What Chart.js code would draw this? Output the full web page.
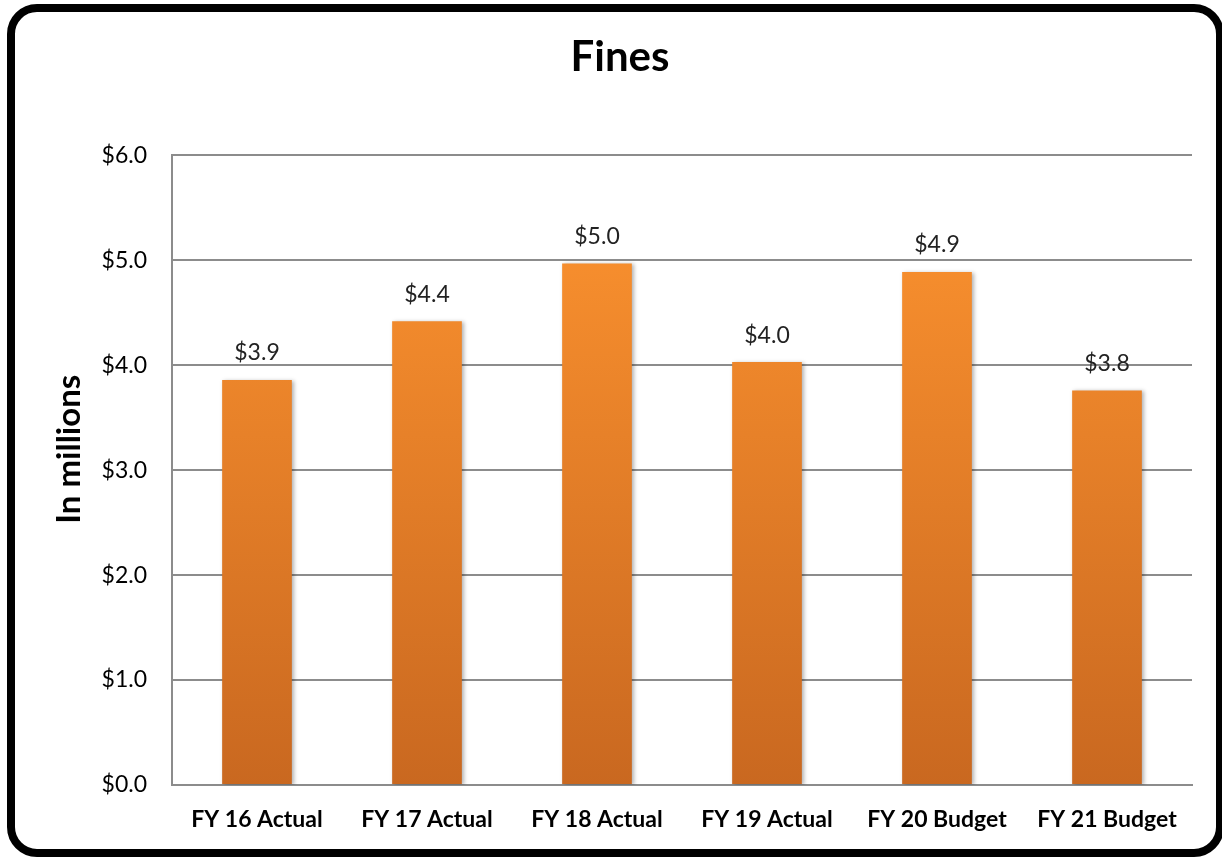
<!DOCTYPE html>
<html>
<head>
<meta charset="utf-8">
<script src="https://cdn.jsdelivr.net/npm/chart.js@4"></script>
<style>
    html, body { margin: 0; padding: 0; background: #fff; overflow: hidden; }
    #wrap { position: relative; width: 1222px; height: 858px; overflow: hidden; }
    #fines { position: absolute; left: 0; top: 0; }
    #frame {
        position: absolute; left: 7px; top: 4px; width: 1201px; height: 837px;
        border: 8px solid #000; border-radius: 30px; pointer-events: none;
    }
</style>
</head>
<body>
<div id="wrap">
    <canvas id="fines" width="1222" height="858"></canvas>
    <div id="frame"></div>
</div>
<script>
const years = ["FY 16 Actual", "FY 17 Actual", "FY 18 Actual", "FY 19 Actual", "FY 20 Budget", "FY 21 Budget"];
const fines = [3.86, 4.42, 4.97, 4.03, 4.89, 3.76];
const yTicks = [0, 1, 2, 3, 4, 5, 6];
const yTitle = "In millions";

const fontFamily = "Lato, 'Open Sans', sans-serif";

// value labels above each bar
const barLabels = {
    id: 'barLabels',
    afterDatasetsDraw(chart) {
        const ctx = chart.ctx;
        const meta = chart.getDatasetMeta(0);
        ctx.save();
        ctx.font = "23px " + fontFamily;
        ctx.fillStyle = "#222";
        ctx.textAlign = "center";
        ctx.textBaseline = "middle";
        meta.data.forEach((bar, i) => {
            ctx.fillText("$" + fines[i].toFixed(1), bar.x, bar.y - 27);
        });
        ctx.restore();
    }
};

// y axis title, sits a bit above the middle like the original
const sideTitle = {
    id: 'sideTitle',
    afterDraw(chart) {
        const ctx = chart.ctx;
        const area = chart.chartArea;
        ctx.save();
        ctx.translate(69, (area.top + area.bottom) / 2 - 21);
        ctx.rotate(-Math.PI / 2);
        ctx.font = "bold 33px " + fontFamily;
        ctx.fillStyle = "#000";
        ctx.textAlign = "center";
        ctx.textBaseline = "middle";
        ctx.fillText(yTitle, 0, 0);
        ctx.restore();
    }
};

// soft shadow behind the bars
const barShadow = {
    id: 'barShadow',
    beforeDatasetsDraw(chart) {
        const ctx = chart.ctx;
        ctx.save();
        ctx.shadowColor = "rgba(0,0,0,0.3)";
        ctx.shadowBlur = 4;
        ctx.shadowOffsetX = 2;
        ctx.shadowOffsetY = 1;
    },
    afterDatasetsDraw(chart) {
        chart.ctx.restore();
    }
};

function barGradient(context) {
    const chart = context.chart;
    const area = chart.chartArea;
    if (!area) return "#f28a2e";
    const g = chart.ctx.createLinearGradient(0, area.top, 0, area.bottom);
    g.addColorStop(0, "#ff9530");
    g.addColorStop(1, "#c96820");
    return g;
}

new Chart("fines", {
    type: "bar",
    data: {
        labels: years,
        datasets: [{
            data: fines,
            backgroundColor: barGradient,
            borderWidth: 0,
            barPercentage: 0.41,
            categoryPercentage: 1
        }]
    },
    options: {
        responsive: false,
        animation: false,
        layout: { padding: { left: 48, right: 30, top: 0, bottom: 13 } },
        plugins: {
            legend: { display: false },
            tooltip: { enabled: false },
            title: {
                display: true,
                text: "Fines",
                color: "#000",
                font: { family: fontFamily, size: 42, weight: "bold" },
                padding: { top: 32, bottom: 73 }
            }
        },
        scales: {
            x: {
                grid: { display: false },
                border: { display: true, color: "#8c8c8c", width: 2 },
                ticks: {
                    color: "#000",
                    padding: 13,
                    maxRotation: 0,
                    font: { family: fontFamily, size: 23, weight: "bold" }
                },
                afterFit(scale) { scale.height = 60; }
            },
            y: {
                min: 0,
                max: 6,
                afterBuildTicks(scale) {
                    scale.ticks = yTicks.map(v => ({ value: v }));
                },
                grid: { color: "#8c8c8c", lineWidth: 2, drawTicks: false },
                border: { display: true, color: "#8c8c8c", width: 2 },
                ticks: {
                    color: "#000",
                    padding: 25,
                    font: { family: fontFamily, size: 23 },
                    callback: v => "$" + v.toFixed(1)
                },
                afterFit(scale) { scale.width = 124; }
            }
        }
    },
    plugins: [barShadow, barLabels, sideTitle]
});
</script>
</body>
</html>
